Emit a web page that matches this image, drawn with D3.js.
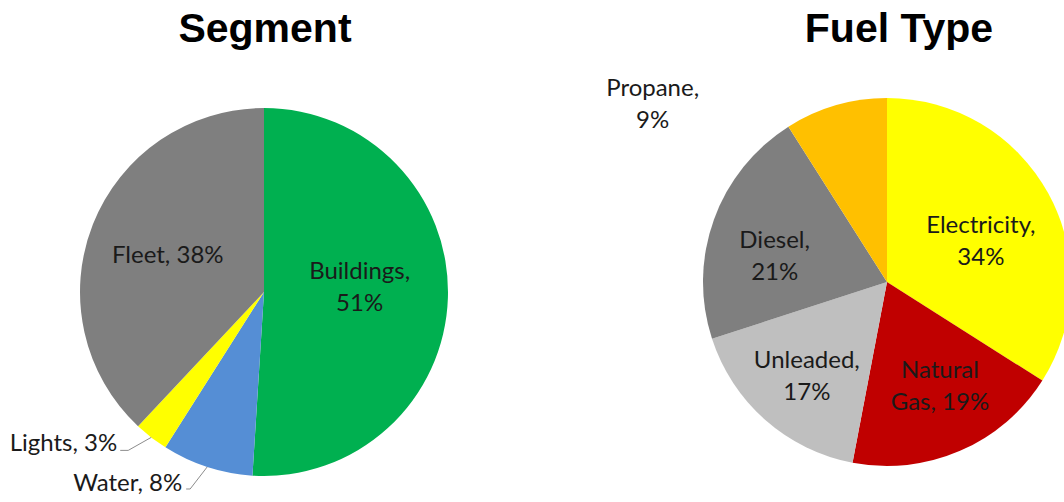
<!DOCTYPE html>
<html>
<head>
<meta charset="utf-8">
<script src="https://cdn.jsdelivr.net/npm/d3@7"></script>
<style>
  html, body { margin: 0; padding: 0; background: #fff; }
  svg { display: block; }
</style>
</head>
<body>
<svg id="chart" width="1064" height="502"></svg>
<script>
// Segment breakdown
const segmentNames  = ["Buildings", "Water", "Lights", "Fleet"];
const segmentValues = [51, 8, 3, 38];
const segmentColors = ["#00B050", "#558ED5", "#FFFF00", "#7F7F7F"];

// Fuel type breakdown
const fuelNames  = ["Electricity", "Natural Gas", "Unleaded", "Diesel", "Propane"];
const fuelValues = [34, 19, 17, 21, 9];
const fuelColors = ["#FFFF00", "#C00000", "#BFBFBF", "#7F7F7F", "#FFC000"];

// Label placement: inside labels sit on a ring (k = fraction of radius) with a
// small nudge; outside labels hang off the rim, optionally with a leader line.
// firstLine = number of words that go on the first text line.
const segmentLabelLayout = [
  { inside: true,  k: 0.52,  dx: 0,   dy: 0,  firstLine: 1 },
  { inside: false, dx: -25, dy: 24, anchor: "end", leader: [[-17, 22], [-21, 22]], firstLine: 9 },
  { inside: false, dx: -34, dy: 14, anchor: "end", leader: [[-23, 13], [-31, 13]], firstLine: 9 },
  { inside: true,  k: 0.545, dx: -3,  dy: 8,  firstLine: 9 }
];
const fuelLabelLayout = [
  { inside: true, k: 0.545, dx: 6,  dy: 15,  firstLine: 1 },
  { inside: true, k: 0.67,  dx: 4,  dy: -1,  firstLine: 1 },
  { inside: true, k: 0.70,  dx: 5,  dy: 5,   firstLine: 1 },
  { inside: true, k: 0.62,  dx: -5, dy: 21,  firstLine: 1 },
  { inside: false, dx: -183, dy: 7, anchor: "middle", firstLine: 1 }
];

const svg = d3.select("#chart");
const R = 184;
const lineHeight = 32;

function drawPie(opts) {
  const { title, titleX, cx, cy, names, values, colors, layout } = opts;

  svg.append("text")
    .attr("x", titleX)
    .attr("y", 42)
    .attr("text-anchor", "middle")
    .attr("font-family", "'Liberation Sans', Arial, sans-serif")
    .attr("font-weight", "bold")
    .attr("font-size", 41)
    .attr("fill", "#000")
    .text(title);

  const data = names.map((n, i) => ({ name: n, value: values[i], color: colors[i], layout: layout[i] }));
  const pie = d3.pie().sort(null).value(d => d.value);
  const arcs = pie(data);
  const arc = d3.arc().innerRadius(0).outerRadius(R);

  const g = svg.append("g").attr("transform", `translate(${cx},${cy})`);

  g.selectAll("path.slice")
    .data(arcs)
    .join("path")
    .attr("class", "slice")
    .attr("d", arc)
    .attr("fill", d => d.data.color);

  arcs.forEach(a => {
    const L = a.data.layout;
    let px, py;
    if (L.inside) {
      const ring = d3.arc().innerRadius(R * L.k).outerRadius(R * L.k);
      [px, py] = ring.centroid(a);
    } else {
      const rim = d3.arc().innerRadius(R).outerRadius(R);
      const [ex, ey] = rim.centroid(a);
      px = ex; py = ey;
      if (L.leader) {
        const pts = [[ex, ey]].concat(L.leader.map(p => [ex + p[0], ey + p[1]]));
        g.append("path")
          .attr("d", d3.line()(pts))
          .attr("fill", "none")
          .attr("stroke", "#8c8c8c")
          .attr("stroke-width", 1);
      }
    }
    px += L.dx; py += L.dy;

    const words = `${a.data.name}, ${a.data.value}%`.split(" ");
    const lines = [words.slice(0, L.firstLine).join(" ")];
    if (words.length > L.firstLine) lines.push(words.slice(L.firstLine).join(" "));

    const t = g.append("text")
      .attr("text-anchor", L.inside ? "middle" : L.anchor)
      .attr("font-family", "Lato, 'Noto Sans', sans-serif")
      .attr("font-size", 24)
      .attr("fill", "#1a1a1a");
    lines.forEach((ln, i) => {
      t.append("tspan")
        .attr("x", px)
        .attr("y", py - (lines.length - 1) * lineHeight / 2 + i * lineHeight)
        .text(ln);
    });
  });
}

drawPie({
  title: "Segment", titleX: 265, cx: 264, cy: 292,
  names: segmentNames, values: segmentValues, colors: segmentColors, layout: segmentLabelLayout
});
drawPie({
  title: "Fuel Type", titleX: 899, cx: 887, cy: 282,
  names: fuelNames, values: fuelValues, colors: fuelColors, layout: fuelLabelLayout
});
</script>
</body>
</html>
